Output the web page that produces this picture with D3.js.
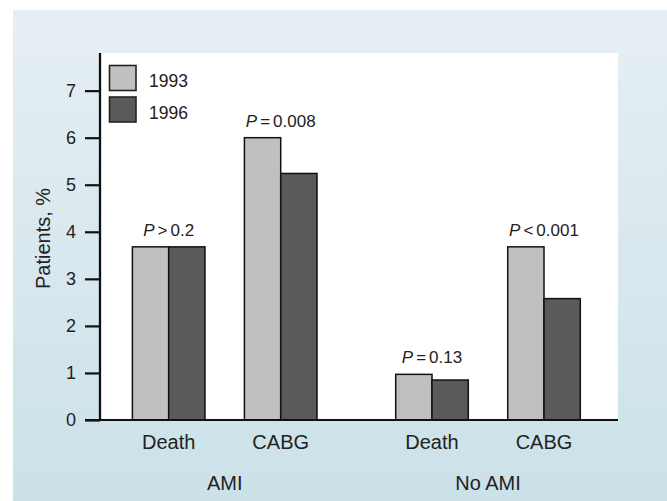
<!DOCTYPE html>
<html>
<head>
<meta charset="utf-8">
<script src="https://cdn.jsdelivr.net/npm/d3@7/dist/d3.min.js"></script>
<style>
  html, body { margin: 0; padding: 0; background: #ffffff; }
  svg { display: block; }
  text { font-family: "Liberation Sans", Arial, Helvetica, sans-serif; fill: #222; }
</style>
</head>
<body>
<svg id="chart" width="667" height="501"></svg>
<script>
// ---- data ----
const groups = ["AMI", "No AMI"];
const categories = ["Death", "CABG"];
const series = ["1993", "1996"];
const values1993 = [3.68, 6.0, 0.97, 3.68];   // AMI Death, AMI CABG, No AMI Death, No AMI CABG
const values1996 = [3.68, 5.24, 0.85, 2.58];
const pOperators = [">", "=", "=", "<"];
const pValues = ["0.2", "0.008", "0.13", "0.001"];
const yTicks = [0, 1, 2, 3, 4, 5, 6, 7];

const colors = { "1993": "#c0c0c0", "1996": "#5a5a5a" };

const svg = d3.select("#chart");
const W = 667, H = 501;

// background panel with gradient
const defs = svg.append("defs");
const grad = defs.append("linearGradient").attr("id", "bg").attr("x1", 0).attr("y1", 0).attr("x2", 0).attr("y2", 1);
grad.append("stop").attr("offset", "0%").attr("stop-color", "#e6eff4");
grad.append("stop").attr("offset", "100%").attr("stop-color", "#cbe1e8");
svg.append("rect").attr("x", 13).attr("y", 10).attr("width", W - 13).attr("height", H - 10).attr("fill", "url(#bg)");

// plot area
const plot = { left: 100, right: 618, top: 53, bottom: 420 };
svg.append("rect")
  .attr("x", plot.left).attr("y", plot.top)
  .attr("width", plot.right - plot.left).attr("height", plot.bottom - plot.top)
  .attr("fill", "#ffffff");

const y = d3.scaleLinear().domain([0, 7.8]).range([plot.bottom, plot.top]);
const xGroup = d3.scalePoint().domain(groups).range([224.7, 488]);
const xCat = d3.scaleBand().domain(categories).range([-92.3, 92.3]).paddingInner(0.352).paddingOuter(0);
const xSer = d3.scaleBand().domain(series).range([0, xCat.bandwidth()]).padding(0);

// build records
const records = [];
groups.forEach((g, gi) => {
  categories.forEach((c, ci) => {
    const i = gi * categories.length + ci;
    records.push({ group: g, cat: c, idx: i, v: { "1993": values1993[i], "1996": values1996[i] } });
  });
});

// bars
records.forEach(r => {
  const x0 = xGroup(r.group) + xCat(r.cat);
  series.forEach(s => {
    svg.append("rect")
      .attr("x", x0 + xSer(s))
      .attr("y", y(r.v[s]))
      .attr("width", xSer.bandwidth())
      .attr("height", y(0) - y(r.v[s]))
      .attr("fill", colors[s])
      .attr("stroke", "#111")
      .attr("stroke-width", 1.5);
  });
  // P label
  const cx = x0 + xCat.bandwidth() / 2;
  const top = y(Math.max(r.v["1993"], r.v["1996"]));
  const t = svg.append("text")
    .attr("x", cx).attr("y", top - 11)
    .attr("text-anchor", "middle")
    .style("font-size", "17px");
  t.append("tspan").style("font-style", "italic").text("P");
  t.append("tspan").attr("dx", 3).text(pOperators[r.idx]);
  t.append("tspan").attr("dx", 3).text(pValues[r.idx]);

  // category label
  svg.append("text")
    .attr("x", cx).attr("y", 449)
    .attr("text-anchor", "middle")
    .style("font-size", "20px")
    .text(r.cat);
});

// group labels
groups.forEach(g => {
  svg.append("text")
    .attr("x", xGroup(g)).attr("y", 490)
    .attr("text-anchor", "middle")
    .style("font-size", "20px")
    .text(g);
});

// y axis
const yAxis = d3.axisLeft(y).tickValues(yTicks).tickSize(15).tickPadding(9).tickFormat(d3.format("d"));
const gy = svg.append("g").attr("transform", `translate(${plot.left},0)`).call(yAxis);
gy.select(".domain").remove();
gy.selectAll(".tick line").attr("stroke", "#111").attr("stroke-width", 2.2);
gy.selectAll(".tick text").style("font-size", "18px").attr("fill", "#222")
  .style("font-family", '"Liberation Sans", Arial, sans-serif');
svg.append("line")
  .attr("x1", plot.left).attr("x2", plot.left)
  .attr("y1", plot.top).attr("y2", plot.bottom)
  .attr("stroke", "#111").attr("stroke-width", 2.3);

// x baseline
svg.append("line")
  .attr("x1", 85).attr("x2", plot.right)
  .attr("y1", y(0)).attr("y2", y(0))
  .attr("stroke", "#111").attr("stroke-width", 2.2);

// y label
svg.append("text")
  .attr("transform", `translate(50,${(plot.top + plot.bottom) / 2 + 2}) rotate(-90)`)
  .attr("text-anchor", "middle")
  .style("font-size", "20px")
  .text("Patients, %");

// legend
const legend = svg.append("g");
series.forEach((s, i) => {
  legend.append("rect")
    .attr("x", 109.5).attr("y", 65.5 + i * 31.5)
    .attr("width", 26.5).attr("height", 25)
    .attr("fill", colors[s]).attr("stroke", "#222").attr("stroke-width", 1.6);
  legend.append("text")
    .attr("x", 149).attr("y", 86.5 + i * 32.3)
    .style("font-size", "17.5px")
    .text(s);
});
</script>
</body>
</html>
